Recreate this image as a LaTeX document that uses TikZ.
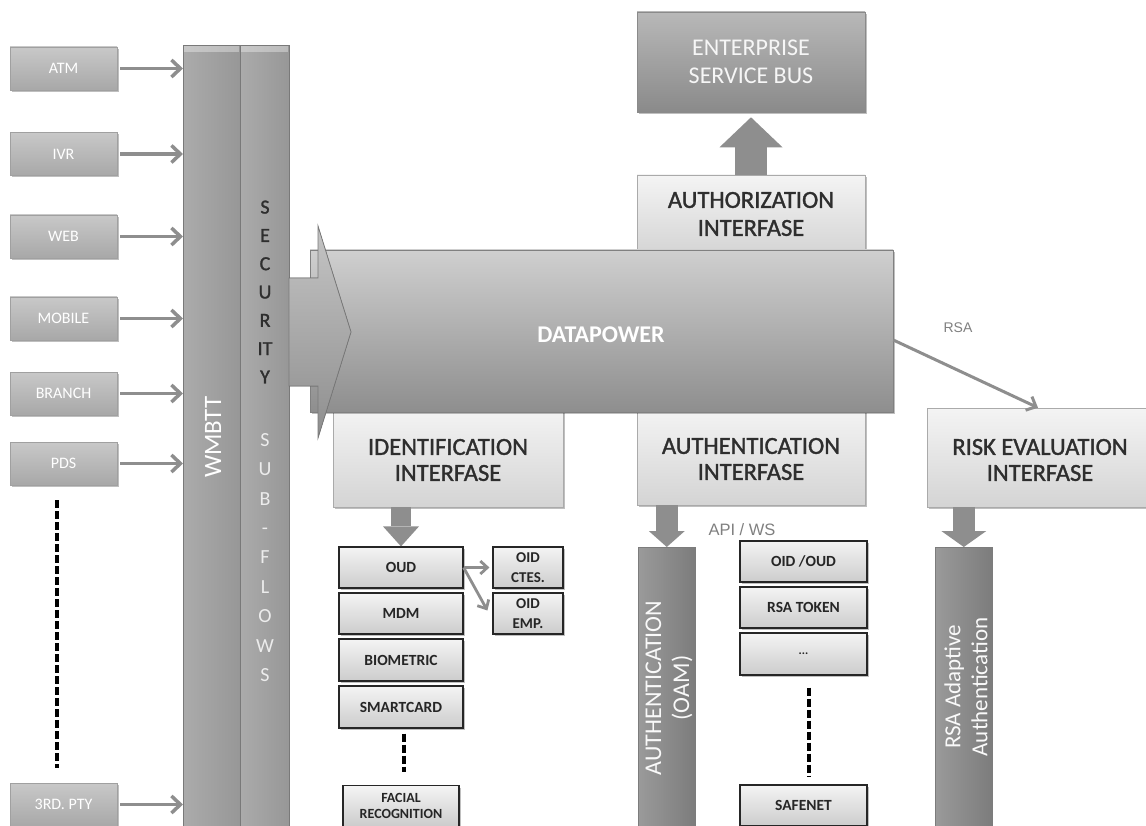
\documentclass[tikz,border=0pt]{standalone}
\usepackage{fontspec}
\setmainfont{Carlito}
\newfontfamily\semib[FakeBold=1.3]{Carlito}
\newfontfamily\arialf{Liberation Sans}
\usetikzlibrary{arrows.meta,shadows,calc}
\definecolor{srcT}{HTML}{C8C8C8}
\definecolor{srcB}{HTML}{A8A8A8}
\definecolor{srcD}{HTML}{A0A0A0}
\definecolor{ifT}{HTML}{F4F4F4}
\definecolor{ifB}{HTML}{D4D4D4}
\definecolor{ifD}{HTML}{AAAAAA}
\definecolor{txtdark}{HTML}{2E2E2E}
\definecolor{dpT}{HTML}{CFCFCF}
\definecolor{dpB}{HTML}{8E8E8E}
\definecolor{esbT}{HTML}{B8B8B8}
\definecolor{esbB}{HTML}{8A8A8A}
\definecolor{arrowgray}{HTML}{8E8E8E}
\definecolor{barL}{HTML}{ABABAB}
\definecolor{barM}{HTML}{B9B9B9}
\definecolor{barR}{HTML}{979797}
\definecolor{dbarL}{HTML}{9A9A9A}
\definecolor{dbarM}{HTML}{8E8E8E}
\definecolor{dbarR}{HTML}{7C7C7C}
\definecolor{sbT}{HTML}{F4F4F4}
\definecolor{sbB}{HTML}{CCCCCC}
\begin{document}
\begin{tikzpicture}[x=1pt,y=-1pt,
  softshadow/.style={drop shadow={shadow xshift=2pt,shadow yshift=-2pt,opacity=0.25,fill=black}},
  srcbox/.style={minimum width=107pt,minimum height=43pt,inner sep=0pt,
    top color=srcT,bottom color=srcB,draw=srcD,line width=0.6pt,
    text=white,font=\fontsize{16}{18}\selectfont,softshadow},
  iface/.style={inner sep=0pt,top color=ifT,bottom color=ifB,draw=ifD,line width=0.6pt,softshadow},
  ifacetext/.style={text=txtdark,align=center,font=\semib\fontsize{24.5}{26}\selectfont},
  smallbox/.style={inner sep=0pt,top color=sbT,bottom color=sbB,draw=black!85,line width=1.2pt,
    text=black!85,align=center,font=\bfseries\fontsize{15.5}{17}\selectfont,softshadow},
  vbar/.style={inner sep=0pt,left color=barL,middle color=barM,right color=barR,draw=barR!80!black,line width=0.6pt},
  dbar/.style={inner sep=0pt,left color=dbarL,middle color=dbarM,right color=dbarR,draw=dbarR,line width=0.6pt},
  srcarrow/.style={draw=arrowgray,line width=3.5pt,shorten <=3pt,-{Straight Barb[length=9pt,width=17pt]}},
  thinarrow/.style={draw=arrowgray,line width=3pt,-{Straight Barb[length=8pt,width=15pt]}},
  blk/.style={draw=arrowgray},
  dashln/.style={draw=black,line width=4pt,dash pattern=on 8pt off 3pt},
  bartext/.style={rotate=90,text=white!95!gray,align=center},
]
\clip (0,0) rectangle (1146,826);
\fill[white] (0,0) rectangle (1146,826);

% source boxes
\node[srcbox] (atm) at (63.5,68.5) {ATM};
\node[srcbox] (ivr) at (63.5,154) {IVR};
\node[srcbox] (web) at (63.5,236.5) {WEB};
\node[srcbox] (mob) at (63.5,318.5) {MOBILE};
\node[srcbox] (bra) at (63.5,393.5) {BRANCH};
\node[srcbox] (pds) at (63.5,463.5) {PDS};
\node[srcbox] (pty) at (63.5,804.5) {3RD. PTY};

% vertical bars
\node[vbar,minimum width=57pt,minimum height=800pt,anchor=north west] (wmb) at (183,45) {};
\node[vbar,minimum width=49pt,minimum height=800pt,anchor=north west] (sec) at (240,45) {};
\fill[white,opacity=0.35] (184,46) rectangle (239,52);
\fill[white,opacity=0.35] (241,46) rectangle (288,52);
\node[rotate=90,text=white,font=\fontsize{25}{26}\selectfont] (wmbt) at (213,437) {WMBTT};
\node[text=txtdark,align=center,font=\semib\fontsize{20}{28.3}\selectfont] (sect) at (265,292) {S\\E\\C\\U\\R\\IT\\Y};
\node[text=white!85!gray,align=center,font=\fontsize{20}{29.4}\selectfont] (subt) at (265,557.5) {S\\U\\B\\-\\F\\L\\O\\W\\S};

% arrows from sources
\foreach \s in {atm,ivr,web,mob,bra,pds,pty}{
  \draw[srcarrow] (\s.east) -- (\s.east -| wmb.west);
}
\draw[dashln] ([xshift=-7pt,yshift=-15pt]pds.south) -- ([xshift=-7pt,yshift=15pt]pty.north);

% ESB and authorization
\node[inner sep=0pt,minimum width=228pt,minimum height=100pt,top color=esbT,bottom color=esbB,
  draw=esbB,line width=0.6pt,text=white!93!gray,align=center,
  font=\fontsize{24}{28}\selectfont,softshadow] (esb) at (751,62) {ENTERPRISE\\SERVICE BUS};
\node[iface,minimum width=228pt,minimum height=80pt] (authz) at (751,215) {};
\node[ifacetext,font=\semib\fontsize{24.5}{28}\selectfont] (authzt) at (751,214) {AUTHORIZATION\\INTERFASE};
\draw[blk,line width=32pt,-{Triangle[length=30pt,width=63pt,line width=0pt]}] (authz.north -| esb.south) -- ([yshift=-5pt]esb.south);

% interfaces below datapower
\node[iface,minimum width=230pt,minimum height=100pt] (idf) at (448,457) {};
\node[ifacetext] (idft) at (448,460) {IDENTIFICATION\\INTERFASE};
\node[iface,minimum width=228pt,minimum height=98pt] (authn) at (751,456) {};
\node[ifacetext] (authnt) at (751,459) {AUTHENTICATION\\INTERFASE};
\node[iface,minimum width=226pt,minimum height=99pt] (risk) at (1040,457.5) {};
\node[ifacetext] (riskt) at (1040,460) {RISK EVALUATION\\INTERFASE};

% datapower
\node[inner sep=0pt,minimum width=583pt,minimum height=162pt,top color=dpT,bottom color=dpB,
  draw=dpB!90!black,line width=0.6pt,softshadow] (dp) at (601.5,331) {};
\filldraw[top color=dpT!95!black,bottom color=dpB,draw=dpB!85!black,line width=0.8pt]
  (289,278) -- (318,278) -- (318,226) -- (351,332) -- (318,438) -- (318,386) -- (289,386) -- cycle;
\node[text=white,font=\bfseries\fontsize{24}{26}\selectfont] (dpt) at (601,335) {DATAPOWER};

% RSA arrow
\draw[thinarrow] ([yshift=-9pt]dp.east) -- ([xshift=-2pt]risk.north);
\node[text=gray,font=\arialf\fontsize{14}{16}\selectfont] (rsal) at (958,328) {RSA};

% identification column
\node[smallbox,minimum width=124pt,minimum height=41pt] (oud) at (401,567.5) {OUD};
\node[smallbox,minimum width=124pt,minimum height=41pt] (mdm) at (401,613.5) {MDM};
\node[smallbox,minimum width=124pt,minimum height=42pt] (bio) at (401,660) {BIOMETRIC};
\node[smallbox,minimum width=124pt,minimum height=42pt] (smc) at (401,707) {SMARTCARD};
\node[smallbox,minimum width=116pt,minimum height=41pt,font=\bfseries\fontsize{14}{16.5}\selectfont] (fac) at (401,806) {FACIAL\\RECOGNITION};
\node[smallbox,minimum width=70pt,minimum height=41pt,font=\bfseries\fontsize{15}{20}\selectfont] (octes) at (528,567.5) {OID\\CTES.};
\node[smallbox,minimum width=70pt,minimum height=41pt,font=\bfseries\fontsize{15}{20}\selectfont] (oemp) at (528,613.5) {OID\\EMP.};
\draw[blk,line width=20pt,-{Triangle[length=20pt,width=36pt,line width=0pt]}] (idf.south -| oud.north) -- (oud.north);
\draw[thinarrow,line width=2.8pt,-{Straight Barb[length=7pt,width=13pt]}] (oud.east) -- ([xshift=-3pt]octes.west);
\draw[thinarrow,line width=2.8pt,-{Straight Barb[length=7pt,width=13pt]}] (oud.east) -- ([xshift=-5pt,yshift=3pt]oemp.west);
\draw[dashln] ([xshift=3pt,yshift=-5pt]smc.south) -- ([xshift=3pt,yshift=13pt]fac.north);

% authentication column
\node[dbar,minimum width=57pt,minimum height=300pt,anchor=north west] (oam) at (638,547) {};
\node[bartext,font=\fontsize{24}{28}\selectfont] (oamt) at (669,688) {AUTHENTICATION\\(OAM)};
\draw[blk,line width=22pt,-{Triangle[length=16pt,width=36pt,line width=0pt]}] (authn.south -| oam.north) -- (oam.north);
\node[text=gray,font=\arialf\fontsize{16.5}{18}\selectfont] (api) at (742,530) {API / WS};
\node[smallbox,minimum width=127pt,minimum height=41pt] (oidoud) at (803.5,561.5) {OID /OUD};
\node[smallbox,minimum width=127pt,minimum height=41pt] (rsat) at (803.5,607.5) {RSA TOKEN};
\node[smallbox,minimum width=127pt,minimum height=42pt,font=\bfseries\fontsize{12}{14}\selectfont] (dots) at (803.5,654) {...};
\node[smallbox,minimum width=127pt,minimum height=41pt] (safe) at (803.5,805.5) {SAFENET};
\draw[dashln] ([xshift=5pt,yshift=-12pt]dots.south) -- ([xshift=5pt,yshift=7pt]safe.north);

% risk column
\node[dbar,minimum width=57pt,minimum height=300pt,anchor=north west] (rsaa) at (935,547) {};
\node[bartext,font=\fontsize{23}{27}\selectfont] (rsaat) at (966,687) {RSA Adaptive\\Authentication};
\draw[blk,line width=22pt,-{Triangle[length=16pt,width=45pt,line width=0pt]}] (risk.south -| rsaa.north) -- (rsaa.north);
\end{tikzpicture}
\end{document}
